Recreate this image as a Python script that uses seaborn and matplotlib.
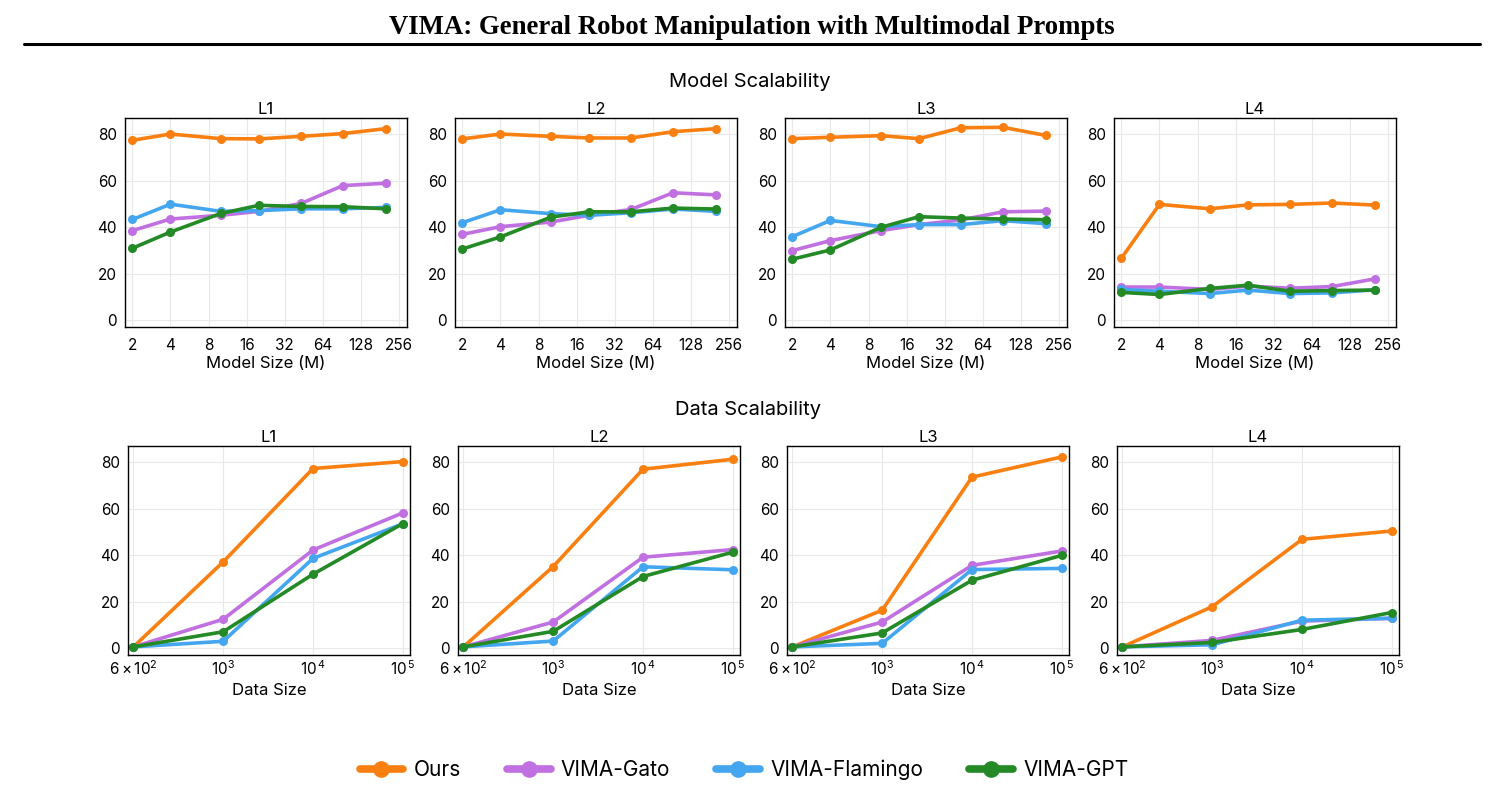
import numpy as np
import pandas as pd
import matplotlib
matplotlib.use("Agg")
import matplotlib.pyplot as plt
import seaborn as sns

# ---------------- data ----------------
methods = ["Ours", "VIMA-Gato", "VIMA-Flamingo", "VIMA-GPT"]
levels = ["L1", "L2", "L3", "L4"]
model_sizes = [2, 4, 10, 20, 43, 92, 200]
model_ticks = [2, 4, 8, 16, 32, 64, 128, 256]
data_size_labels = [r"$6\times10^{2}$", r"$10^{3}$", r"$10^{\,4}$", r"$10^{\,5}$"]

model_ours = {
    "L1": [77.4, 80.1, 78.1, 78.0, 79.1, 80.3, 82.4],
    "L2": [78.0, 80.1, 79.1, 78.4, 78.4, 81.1, 82.4],
    "L3": [78.1, 78.7, 79.4, 78.1, 82.8, 83.0, 79.5],
    "L4": [26.6, 49.8, 47.9, 49.6, 49.8, 50.4, 49.5],
}
model_gato = {
    "L1": [38.5, 43.5, 45.1, 46.8, 50.2, 57.9, 58.9],
    "L2": [36.9, 40.2, 42.2, 45.1, 47.6, 54.8, 53.9],
    "L3": [29.9, 34.2, 38.5, 41.1, 43.1, 46.6, 46.9],
    "L4": [14.2, 14.2, 13.2, 14.6, 13.7, 14.4, 17.7],
}
model_flamingo = {
    "L1": [43.3, 49.9, 46.8, 47.1, 47.9, 47.9, 48.5],
    "L2": [41.9, 47.5, 45.8, 45.1, 46.2, 47.8, 46.8],
    "L3": [35.9, 42.9, 40.2, 41.1, 41.1, 42.8, 41.5],
    "L4": [13.2, 12.4, 11.4, 12.9, 11.4, 11.7, 13.0],
}
model_gpt = {
    "L1": [30.9, 37.9, 45.9, 49.4, 48.9, 48.8, 47.9],
    "L2": [30.6, 35.8, 44.3, 46.6, 46.6, 48.2, 47.8],
    "L3": [26.2, 30.2, 39.9, 44.5, 43.9, 43.5, 43.2],
    "L4": [11.9, 11.0, 13.6, 15.0, 12.4, 12.7, 12.9],
}

data_ours = {
    "L1": [0.5, 37.1, 77.3, 80.3],
    "L2": [0.5, 35.1, 77.0, 81.3],
    "L3": [0.5, 16.3, 73.6, 82.3],
    "L4": [0.5, 17.8, 46.8, 50.4],
}
data_gato = {
    "L1": [0.5, 12.4, 42.2, 58.2],
    "L2": [0.5, 11.2, 39.1, 42.4],
    "L3": [0.5, 11.2, 35.6, 41.8],
    "L4": [0.5, 3.3, 11.6, 12.8],
}
data_flamingo = {
    "L1": [0.5, 2.9, 38.6, 53.5],
    "L2": [0.5, 3.0, 35.0, 33.7],
    "L3": [0.5, 2.0, 33.8, 34.3],
    "L4": [0.5, 1.4, 12.0, 12.8],
}
data_gpt = {
    "L1": [0.5, 7.0, 31.8, 53.6],
    "L2": [0.5, 7.2, 30.8, 41.3],
    "L3": [0.5, 6.5, 29.2, 39.9],
    "L4": [0.5, 2.4, 8.0, 15.3],
}

colors = {"Ours": "#f98010", "VIMA-Gato": "#c070e0", "VIMA-Flamingo": "#45a6f0", "VIMA-GPT": "#238a25"}

# ---------------- build tables ----------------
rows_m = []
for lvl in levels:
    for m, src in zip(methods, [model_ours, model_gato, model_flamingo, model_gpt]):
        for x, y in zip(model_sizes, src[lvl]):
            rows_m.append({"level": lvl, "method": m, "x": x, "y": y})
df_model = pd.DataFrame(rows_m)

rows_d = []
for lvl in levels:
    for m, src in zip(methods, [data_ours, data_gato, data_flamingo, data_gpt]):
        for i, y in enumerate(src[lvl]):
            rows_d.append({"level": lvl, "method": m, "x": i, "y": y})
df_data = pd.DataFrame(rows_d)

# ---------------- style ----------------
sns.set_theme(style="whitegrid")
plt.rcParams["font.family"] = ["Inter", "DejaVu Sans"]
plt.rcParams["text.color"] = "black"
plt.rcParams["axes.labelcolor"] = "black"
plt.rcParams["mathtext.fontset"] = "custom"
plt.rcParams["mathtext.rm"] = "Inter"
plt.rcParams["mathtext.it"] = "Inter"
plt.rcParams["mathtext.bf"] = "Inter:bold"

W, H = 1502, 811
fig = plt.figure(figsize=(W / 100, H / 100), dpi=100)


def px_axes(left, top, width, height):
    return fig.add_axes([left / W, 1 - (top + height) / H, width / W, height / H])


top_lefts = [125, 455, 785, 1114]
bot_lefts = [128, 458, 787, 1117]
AW, AH = 282, 209


def style_ax(ax, xpad):
    ax.set_facecolor("white")
    for s in ax.spines.values():
        s.set_color("black")
        s.set_linewidth(1.0)
    ax.grid(True, color="#e9e9e9", linewidth=0.8)
    ax.tick_params(axis="both", labelsize=11, colors="black", length=0, pad=6)
    ax.tick_params(axis="x", pad=xpad)
    ax.set_ylim(-3, 87)
    ax.set_yticks([0, 20, 40, 60, 80])
    ax.set_ylabel("")


line_kw = dict(linewidth=2.6, marker="o", markersize=6.5, markeredgewidth=0)

axes_top = []
for lvl, left in zip(levels, top_lefts):
    ax = px_axes(left, 118, AW, AH)
    sub = df_model[df_model["level"] == lvl]
    sns.lineplot(data=sub, x="x", y="y", hue="method", hue_order=methods,
                 palette=colors, ax=ax, legend=(lvl == "L1"), **line_kw)
    ax.set_xscale("log", base=2)
    ax.set_xlim(1.75, 295)
    ax.set_xticks(model_ticks)
    ax.set_xticklabels([str(t) for t in model_ticks])
    ax.minorticks_off()
    style_ax(ax, 8)
    ax.set_title(lvl, fontsize=12, pad=3)
    ax.set_xlabel("Model Size (M)", fontsize=12, labelpad=2)
    axes_top.append(ax)

for lvl, left in zip(levels, bot_lefts):
    ax = px_axes(left, 446, AW, AH)
    sub = df_data[df_data["level"] == lvl]
    sns.lineplot(data=sub, x="x", y="y", hue="method", hue_order=methods,
                 palette=colors, ax=ax, legend=False, **line_kw)
    ax.set_xlim(-0.06, 3.08)
    ax.set_xticks(range(len(data_size_labels)))
    ax.set_xticklabels(data_size_labels)
    style_ax(ax, 3)
    ax.set_title(lvl, fontsize=12, pad=3)
    ax.set_xlabel("Data Size", fontsize=12, labelpad=4)

# legend
leg_src = axes_top[0].get_legend()
handles = leg_src.legend_handles
labels = [t.get_text() for t in leg_src.get_texts()]
leg_src.remove()
leg = fig.legend(handles, labels, loc="center", bbox_to_anchor=(744 / W, 1 - 770 / H),
                 ncol=4, frameon=False, fontsize=15, handlelength=2.1,
                 columnspacing=2.2, handletextpad=0.5)
for h in leg.legend_handles:
    h.set_linewidth(5.5)
    h.set_markersize(12)
    h.set_marker("o")
    h.set_markeredgewidth(0)

# header texts
fig.text(752 / W, 1 - 27 / H, "VIMA: General Robot Manipulation with Multimodal Prompts",
         ha="center", va="center", fontsize=19.3, fontweight="bold", color="black",
         family=["Liberation Serif", "DejaVu Serif"])
fig.add_artist(plt.Line2D([24 / W, 1480 / W], [1 - 44 / H, 1 - 44 / H], color="black",
                          linewidth=2.2, transform=fig.transFigure))
fig.text(750 / W, 1 - 82 / H, "Model Scalability", ha="center", va="center", fontsize=14.5)
fig.text(748 / W, 1 - 410 / H, "Data Scalability", ha="center", va="center", fontsize=14.5)

fig.savefig("out.png", dpi=100, facecolor="white")
